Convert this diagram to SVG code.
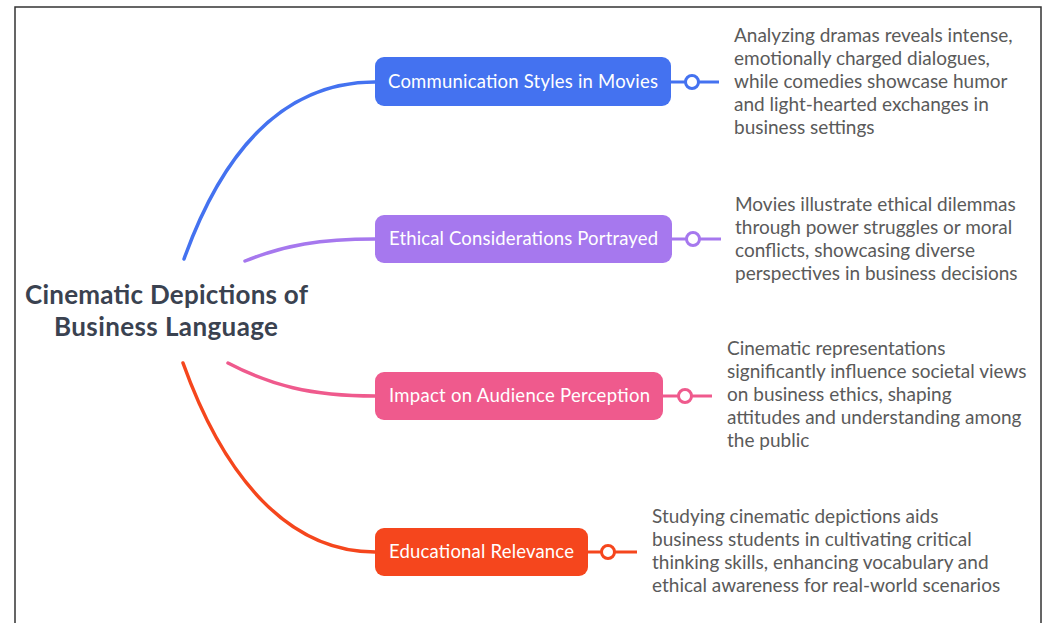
<svg xmlns="http://www.w3.org/2000/svg" width="1047" height="623" viewBox="0 0 1047 623">
<style>
.bg{fill:#ffffff}
.frame{fill:none;stroke:#333;stroke-width:1.5}
.edge{fill:none;stroke-width:3.5;stroke-linecap:round}
.node rect{rx:9;ry:9}
.lbl{font-family:Lato,"Open Sans","Liberation Sans",sans-serif;font-size:18.5px;fill:#ffffff}
.desc{font-family:Lato,"Open Sans","Liberation Sans",sans-serif;font-size:19px;fill:#5a5a5a}
.root{font-family:Lato,"Open Sans","Liberation Sans",sans-serif;font-size:26px;font-weight:bold;fill:#3a4250}
.tick{stroke-width:3;fill:none}
.knob{fill:#ffffff;stroke-width:3}
</style>
<rect class="bg" x="0" y="0" width="1047" height="623"/>
<rect class="frame" x="15" y="7" width="1026" height="630"/>
<g id="connectors">
<path class="edge" stroke="#4472f0" d="M184,259 C226,142 290,82 375,82"/>
<path class="edge" stroke="#a678ee" d="M245,261 C285,245 320,239 375,239"/>
<path class="edge" stroke="#ef5a8d" d="M228,363 C270,385 310,396 375,396"/>
<path class="edge" stroke="#f5461d" d="M183,363 C225,480 290,552 375,552"/>
</g>
<g id="root">
<text class="root" x="25" y="304" textLength="283">Cinematic Depictions of</text>
<text class="root" x="54" y="336" textLength="224">Business Language</text>
</g>
<g id="node1" class="node">
<rect x="375" y="57" width="296" height="49" fill="#4472f0"/>
<text class="lbl" x="388" y="88" textLength="270">Communication Styles in Movies</text>
<line class="tick" stroke="#4472f0" x1="671" y1="82" x2="719" y2="82"/>
<circle class="knob" stroke="#4472f0" cx="692" cy="82" r="6.5"/>
</g>
<g id="desc1">
<text class="desc" x="734" y="42">Analyzing dramas reveals intense,</text>
<text class="desc" x="734" y="65">emotionally charged dialogues,</text>
<text class="desc" x="734" y="88">while comedies showcase humor</text>
<text class="desc" x="734" y="111">and light-hearted exchanges in</text>
<text class="desc" x="734" y="134">business settings</text>
</g>
<g id="node2" class="node">
<rect x="375" y="215" width="297" height="48" fill="#a678ee"/>
<text class="lbl" x="389" y="245" textLength="269">Ethical Considerations Portrayed</text>
<line class="tick" stroke="#a678ee" x1="672" y1="239" x2="721" y2="239"/>
<circle class="knob" stroke="#a678ee" cx="693" cy="239" r="6.5"/>
</g>
<g id="desc2">
<text class="desc" x="735" y="211">Movies illustrate ethical dilemmas</text>
<text class="desc" x="735" y="234">through power struggles or moral</text>
<text class="desc" x="735" y="257">conflicts, showcasing diverse</text>
<text class="desc" x="735" y="280">perspectives in business decisions</text>
</g>
<g id="node3" class="node">
<rect x="375" y="372" width="288" height="48" fill="#ef5a8d"/>
<text class="lbl" x="389" y="402" textLength="261">Impact on Audience Perception</text>
<line class="tick" stroke="#ef5a8d" x1="663" y1="396" x2="712" y2="396"/>
<circle class="knob" stroke="#ef5a8d" cx="685" cy="396" r="6.5"/>
</g>
<g id="desc3">
<text class="desc" x="727" y="355">Cinematic representations</text>
<text class="desc" x="727" y="378">significantly influence societal views</text>
<text class="desc" x="727" y="401">on business ethics, shaping</text>
<text class="desc" x="727" y="424">attitudes and understanding among</text>
<text class="desc" x="727" y="447">the public</text>
</g>
<g id="node4" class="node">
<rect x="375" y="528" width="213" height="48" fill="#f5461d"/>
<text class="lbl" x="389" y="558" textLength="185">Educational Relevance</text>
<line class="tick" stroke="#f5461d" x1="588" y1="552" x2="637" y2="552"/>
<circle class="knob" stroke="#f5461d" cx="608" cy="552" r="6.5"/>
</g>
<g id="desc4">
<text class="desc" x="652" y="523">Studying cinematic depictions aids</text>
<text class="desc" x="652" y="546">business students in cultivating critical</text>
<text class="desc" x="652" y="569">thinking skills, enhancing vocabulary and</text>
<text class="desc" x="652" y="592">ethical awareness for real-world scenarios</text>
</g>
</svg>
